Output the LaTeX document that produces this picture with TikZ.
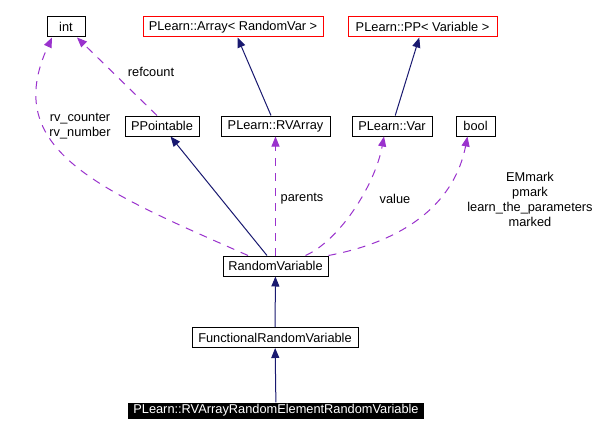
\documentclass[tikz,border=0pt]{standalone}
\usepackage{fontspec}
\setmainfont{Liberation Sans}
\usetikzlibrary{arrows.meta}
\definecolor{edgenavy}{RGB}{25,25,112}
\definecolor{edgepurple}{RGB}{154,50,205}
\definecolor{boxred}{RGB}{255,0,0}
\begin{document}
\begin{tikzpicture}[x=1pt,y=-1pt,
  font=\fontsize{12.8pt}{15pt}\selectfont,
  cls/.style={draw=black,line width=1pt,rectangle,minimum height=20pt,inner xsep=2pt,inner ysep=0pt,fill=white},
  redcls/.style={cls,draw=boxred},
  curcls/.style={rectangle,fill=black,text=white,minimum height=16pt,inner xsep=2pt,inner ysep=0pt},
  inh/.style={draw=edgenavy,line width=1pt,-{Triangle[length=10pt,width=8pt]},color=edgenavy},
  use/.style={draw=edgepurple,line width=1pt,dash pattern=on 8pt off 7pt,-{Triangle[length=10pt,width=8pt]},color=edgepurple},
  lbl/.style={align=center,inner sep=0pt,text=black}]
\useasboundingbox[fill=white] (0,0) rectangle (616,436);

\node[cls,minimum width=38pt] (int) at (66,27) {int};
\node[redcls,minimum width=180pt] (arr) at (233,27) {PLearn::Array< RandomVar >};
\node[redcls,minimum width=149pt] (pp) at (422.5,27) {PLearn::PP< Variable >};
\node[cls,minimum width=74pt] (ppt) at (162,126) {PPointable};
\node[cls,minimum width=109pt] (rva) at (275.5,126) {PLearn::RVArray};
\node[cls,minimum width=80pt] (var) at (392,126) {PLearn::Var};
\node[cls,minimum width=39pt] (bool) at (475.5,126) {bool};
\node[cls,minimum width=105pt] (rv) at (275.5,266) {RandomVariable};
\node[cls,minimum width=166pt] (frv) at (275,337.5) {FunctionalRandomVariable};
\node[curcls,minimum width=296pt] (cur) at (276,410.5) {PLearn::RVArrayRandomElementRandomVariable};

% inheritance
\draw[inh] (rva) -- (arr);
\draw[inh] (var) -- (pp);
\draw[inh] (rv) -- (ppt);
\draw[inh] (frv) -- (rv);
\draw[inh] (cur) -- (frv);

% usage
\draw[use] ([xshift=-5pt]ppt.north) -- ([xshift=11pt]int.south);
\draw[use] ([xshift=-27.5pt]rv.north) .. controls (100,190) and (0,150) .. ([xshift=-14pt]int.south);
\draw[use] (rv.north) -- (rva.south);
\draw[use] ([xshift=30pt]rv.north) .. controls (340,240) and (375,185) .. ([xshift=-8pt]var.south);
\draw[use] (rv.north east) .. controls (410,240) and (455,200) .. ([xshift=-8pt]bool.south);

% labels
\node[lbl] (lrefcount) at (151,72) {refcount};
\node[lbl] (lrv) at (80,126) {rv\_counter\\rv\_number};
\node[lbl] (lparents) at (302,199) {parents};
\node[lbl] (lvalue) at (395,199) {value};
\node[lbl] (lbool) at (530,199) {EMmark\\pmark\\learn\_the\_parameters\\marked};
\end{tikzpicture}
\end{document}
